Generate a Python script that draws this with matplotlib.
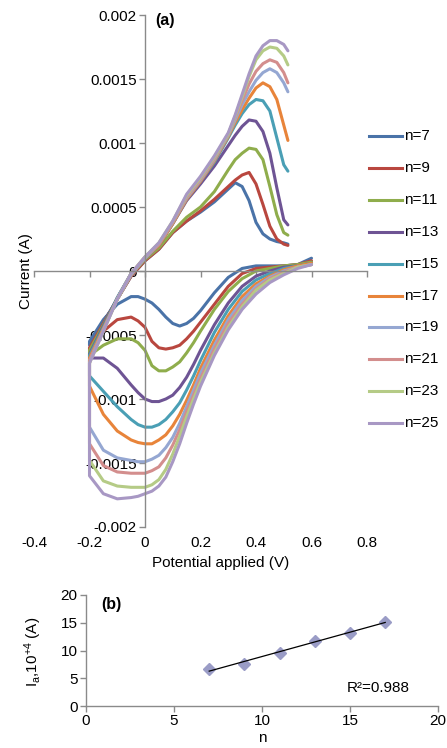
#!/usr/bin/env python3
"""Cyclic voltammograms for n = 7..25 (a) and anodic peak current vs n (b)."""

import matplotlib

matplotlib.use("Agg")
import matplotlib.pyplot as plt
import numpy as np
from matplotlib.lines import Line2D
from matplotlib.ticker import FuncFormatter, MultipleLocator

plt.rcParams["font.family"] = ["Liberation Sans", "DejaVu Sans"]
plt.rcParams["mathtext.default"] = "regular"

# Excel-like palette
_AXIS = "#8a8a8a"
N_VALUES = [7, 9, 11, 13, 15, 17, 19, 21, 23, 25]
LINE_COLORS = [
    "#4a73a8", "#b9473f", "#8fad4c", "#6e5494", "#4a9fb5",
    "#e8843a", "#95a7d2", "#d38e8d", "#b5cb86", "#a898c4",
]

# cathodic sweep (0.6 V -> -0.2 V), current in 1e-4 A
CATHODIC_V = [0.6, 0.55, 0.5, 0.45, 0.4, 0.35, 0.3, 0.25, 0.2, 0.175, 0.15,
              0.125, 0.1, 0.075, 0.05, 0.025, 0.0, -0.025, -0.05, -0.1, -0.15, -0.2]
CAT_N7 = [1.0, 0.5, 0.4, 0.4, 0.4, 0.2, -0.5, -1.7, -3.1, -3.7, -4.1,
          -4.3, -4.1, -3.6, -3.0, -2.5, -2.2, -2.0, -2.0, -2.6, -3.8, -5.5]
CAT_N9 = [0.8, 0.5, 0.4, 0.3, 0.2, -0.2, -1.2, -2.6, -4.0, -4.7, -5.3,
          -5.8, -6.0, -6.1, -6.0, -5.5, -4.4, -3.9, -3.6, -3.8, -4.7, -6.2]
CAT_N11 = [0.7, 0.5, 0.4, 0.2, 0.0, -0.6, -1.6, -3.0, -4.7, -5.6, -6.4,
           -7.1, -7.5, -7.8, -7.8, -7.4, -6.2, -5.6, -5.3, -5.3, -5.8, -6.6]
CAT_N13 = [0.6, 0.4, 0.3, 0.0, -0.4, -1.2, -2.5, -4.2, -6.2, -7.3, -8.3,
           -9.1, -9.7, -10.0, -10.2, -10.2, -10.0, -9.5, -8.9, -7.6, -6.8, -6.8]
CAT_N15 = [0.6, 0.4, 0.2, -0.2, -0.7, -1.6, -3.0, -4.8, -7.0, -8.2, -9.3,
           -10.3, -11.0, -11.6, -12.0, -12.2, -12.2, -12.0, -11.6, -10.6, -9.4, -8.2]
CAT_N17 = [0.6, 0.4, 0.1, -0.4, -1.0, -2.0, -3.5, -5.4, -7.6, -8.9, -10.1,
           -11.2, -12.1, -12.8, -13.2, -13.5, -13.5, -13.4, -13.2, -12.5, -11.2, -9.0]
CAT_N19 = [0.5, 0.3, 0.0, -0.5, -1.2, -2.3, -3.8, -5.8, -8.0, -9.3, -10.6,
           -11.9, -13.0, -13.8, -14.4, -14.7, -14.9, -14.9, -14.8, -14.6, -14.0, -12.2]
CAT_N21 = [0.5, 0.3, -0.1, -0.6, -1.4, -2.6, -4.1, -6.1, -8.4, -9.7, -11.0,
           -12.4, -13.6, -14.6, -15.3, -15.6, -15.8, -15.8, -15.8, -15.7, -15.2, -13.5]
CAT_N23 = [0.5, 0.3, -0.2, -0.7, -1.5, -2.8, -4.4, -6.4, -8.7, -10.0, -11.4,
           -12.9, -14.3, -15.5, -16.3, -16.7, -16.9, -16.9, -16.9, -16.8, -16.4, -14.8]
CAT_N25 = [0.5, 0.2, -0.3, -0.9, -1.8, -3.0, -4.6, -6.6, -9.0, -10.4, -11.9,
           -13.5, -14.9, -16.1, -16.8, -17.2, -17.4, -17.6, -17.7, -17.8, -17.4, -16.0]

# anodic sweep (-0.2 V -> 0.515 V), current in 1e-4 A
ANODIC_V = [-0.2, -0.15, -0.1, -0.05, 0.0, 0.05, 0.1, 0.15, 0.2, 0.25,
            0.3, 0.325, 0.35, 0.375, 0.4, 0.425, 0.45, 0.475, 0.5, 0.515]
AN_N7 = [-5.8, -4.0, -2.2, -0.4, 0.8, 1.7, 3.0, 3.9, 4.6, 5.4,
         6.4, 6.9, 6.6, 5.5, 3.8, 2.9, 2.5, 2.3, 2.2, 2.1]
AN_N9 = [-6.0, -4.1, -2.2, -0.4, 0.8, 1.7, 3.0, 3.9, 4.7, 5.6,
         6.6, 7.1, 7.5, 7.7, 6.8, 5.2, 3.5, 2.5, 2.1, 2.0]
AN_N11 = [-6.2, -4.2, -2.2, -0.3, 0.9, 1.8, 3.1, 4.2, 5.0, 6.2,
          7.9, 8.7, 9.2, 9.6, 9.5, 8.7, 6.6, 4.4, 3.0, 2.8]
AN_N13 = [-6.5, -4.3, -2.1, -0.2, 1.0, 2.0, 3.7, 5.5, 6.8, 8.2,
          9.8, 10.6, 11.3, 11.8, 11.7, 10.9, 9.2, 6.5, 4.0, 3.6]
AN_N15 = [-6.6, -4.4, -2.1, -0.2, 1.0, 2.0, 3.7, 5.6, 7.0, 8.5,
          10.4, 11.4, 12.3, 13.0, 13.4, 13.3, 12.5, 10.4, 8.3, 7.8]
AN_N17 = [-6.8, -4.5, -2.2, -0.3, 1.0, 2.0, 3.7, 5.6, 7.0, 8.6,
          10.5, 11.6, 12.6, 13.5, 14.3, 14.7, 14.4, 13.4, 11.4, 10.2]
AN_N19 = [-7.0, -4.6, -2.2, -0.3, 1.0, 2.1, 3.8, 5.7, 7.1, 8.7,
          10.6, 11.8, 13.0, 14.0, 14.9, 15.5, 15.8, 15.5, 14.7, 14.0]
AN_N21 = [-7.0, -4.6, -2.2, -0.2, 1.1, 2.1, 3.8, 5.8, 7.2, 8.8,
          10.7, 12.0, 13.3, 14.6, 15.6, 16.2, 16.5, 16.3, 15.5, 14.7]
AN_N23 = [-7.2, -4.7, -2.2, -0.2, 1.1, 2.2, 3.9, 5.9, 7.3, 8.9,
          10.7, 12.1, 13.6, 15.2, 16.5, 17.2, 17.5, 17.4, 16.8, 16.1]
AN_N25 = [-7.2, -4.7, -2.2, -0.2, 1.1, 2.2, 3.9, 6.0, 7.4, 9.0,
          10.8, 12.2, 13.8, 15.4, 16.8, 17.6, 18.0, 18.0, 17.7, 17.2]

CATHODIC_I = [CAT_N7, CAT_N9, CAT_N11, CAT_N13, CAT_N15,
              CAT_N17, CAT_N19, CAT_N21, CAT_N23, CAT_N25]
ANODIC_I = [AN_N7, AN_N9, AN_N11, AN_N13, AN_N15,
            AN_N17, AN_N19, AN_N21, AN_N23, AN_N25]

XTICKS_A = [-0.4, -0.2, 0.0, 0.2, 0.4, 0.6, 0.8]
XTICKLABELS_A = ["-0.4", "-0.2", "0", "0.2", "0.4", "0.6", "0.8"]

# panel (b): anodic peak current vs n
N_FIT = [7, 9, 11, 13, 15, 17]
IA_E4 = [6.7, 7.6, 9.6, 11.7, 13.2, 15.2]
R2_TEXT = "R\u00b2=0.988"

W, H = 447, 748


def fx(px):
    return px / W


def fy(py):
    return 1 - py / H


def _fmt(v, _pos):
    v = round(v, 6)
    if v == 0:
        return "0"
    return f"{v:g}"


fig = plt.figure(figsize=(W / 100, H / 100), dpi=100)
fig.patch.set_facecolor("white")

# ---- panel (a)
ax = fig.add_axes([fx(34), fy(527), (367 - 34) / W, (527 - 15) / H])
for n, color, cat, an in zip(N_VALUES, LINE_COLORS, CATHODIC_I, ANODIC_I):
    v = CATHODIC_V + ANODIC_V
    i = np.array(cat + an) * 1e-4
    ax.plot(v, i, color=color, lw=2.2, solid_joinstyle="round",
            solid_capstyle="round")

ax.set_xlim(-0.4, 0.8)
ax.set_ylim(-0.002, 0.002)
for side in ("top", "right"):
    ax.spines[side].set_visible(False)
for side in ("left", "bottom"):
    ax.spines[side].set_position(("data", 0))
    ax.spines[side].set_color(_AXIS)
    ax.spines[side].set_linewidth(1.0)
ax.yaxis.set_major_locator(MultipleLocator(0.0005))
ax.yaxis.set_major_formatter(FuncFormatter(_fmt))
ax.set_xticks(XTICKS_A)
ax.tick_params(axis="y", direction="out", length=4, width=1, color=_AXIS,
               labelsize=11, pad=2)
ax.tick_params(axis="x", direction="out", length=4, width=1, color=_AXIS,
               labelbottom=False)
for v, lab in zip(XTICKS_A, XTICKLABELS_A):
    ax.annotate(lab, xy=(v, 0), xycoords=ax.get_xaxis_transform(),
                xytext=(0, -11.5), textcoords="offset points",
                ha="center", va="center", fontsize=11)

fig.text(fx(155), fy(20), "(a)", fontsize=11.5, fontweight="bold",
         ha="left", va="center")
fig.text(fx(26), fy(271), "Current (A)", rotation=90, fontsize=11,
         ha="center", va="center")
fig.text(fx(221), fy(563), "Potential applied (V)", fontsize=11,
         ha="center", va="center")

# legend, drawn by hand to the right of the plot
for k, (n, color) in enumerate(zip(N_VALUES, LINE_COLORS)):
    yy = fy(136 + 31.9 * k)
    fig.add_artist(Line2D([fx(369), fx(402)], [yy, yy], color=color, lw=2.2))
    fig.text(fx(404), yy, f"n={n}", fontsize=11, ha="left", va="center")

# ---- panel (b)
ax2 = fig.add_axes([fx(86), fy(706), (438 - 86) / W, (706 - 595) / H])
ax2.plot(N_FIT, IA_E4, "D", color="#9a9cc6", ms=6, zorder=2)
coef = np.polyfit(N_FIT, IA_E4, 1)
xs = np.array([N_FIT[0], N_FIT[-1]])
ax2.plot(xs, np.polyval(coef, xs), color="black", lw=0.9, zorder=3)
ax2.set_xlim(0, 20)
ax2.set_ylim(0, 20)
ax2.xaxis.set_major_locator(MultipleLocator(5))
ax2.yaxis.set_major_locator(MultipleLocator(5))
for side in ("top", "right"):
    ax2.spines[side].set_visible(False)
for side in ("left", "bottom"):
    ax2.spines[side].set_color(_AXIS)
    ax2.spines[side].set_linewidth(1.0)
ax2.tick_params(direction="out", length=4, width=1, color=_AXIS,
                labelsize=11, pad=2)

fig.text(fx(101), fy(604), "(b)", fontsize=11.5, fontweight="bold",
         ha="left", va="center")
fig.text(fx(378), fy(688), R2_TEXT, fontsize=11, ha="center", va="center")
fig.text(fx(262), fy(738), "n", fontsize=11, ha="center", va="center")
fig.text(fx(33), fy(652), "I$_a$,10$^{+4}$ (A)", rotation=90, fontsize=11,
         ha="center", va="center")

fig.savefig("out.png", dpi=100, facecolor="white")
